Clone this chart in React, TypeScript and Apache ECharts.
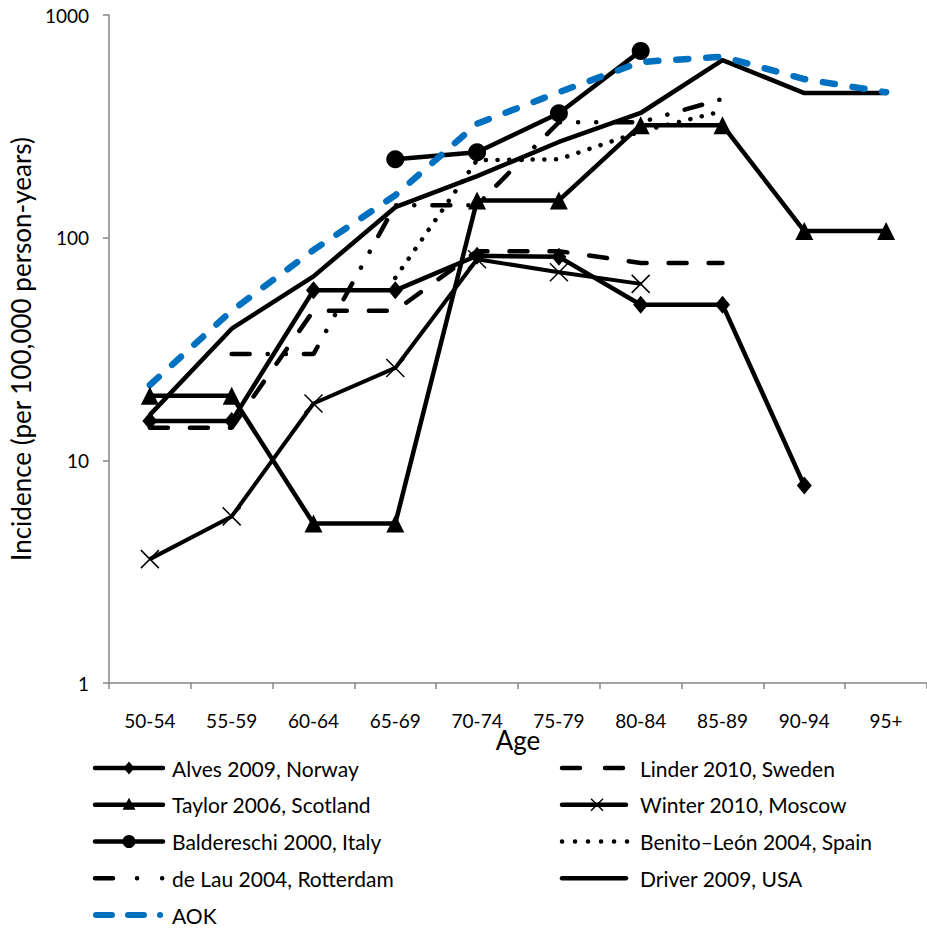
import React, { useEffect, useRef } from "react";
import * as echarts from "echarts";

const categories = ["50-54", "55-59", "60-64", "65-69", "70-74", "75-79", "80-84", "85-89", "90-94", "95+"];
const alves = [15, 15, 58, 58, 83, 82, 50, 50, 7.7, null];
const linder = [14, 14, 47, 47, 87, 87, 77, 77, null, null];
const taylor = [19.5, 19.5, 5.2, 5.2, 147, 147, 320, 320, 107, 107];
const winter = [3.6, 5.6, 18, 26, 80, 70, 62, null, null, null];
const baldereschi = [null, null, null, 225, 242, 362, 690, null, null, null];
const benito = [null, null, null, 66, 223, 225, 300, 370, null, null];
const deLau = [null, 30, 30, 140, 140, 330, 330, 420, null, null];
const driver = [16, 39, 67, 137, 189, 269, 363, 627, 446, 446];
const aok = [21.8, 47, 88, 155, 325, 450, 615, 650, 515, 450];

const leftLegend = ["Alves 2009, Norway", "Taylor 2006, Scotland", "Baldereschi 2000, Italy", "de Lau 2004, Rotterdam", "AOK"];
const rightLegend = ["Linder 2010, Sweden", "Winter 2010, Moscow", "Benito–León 2004, Spain", "Driver 2009, USA"];

const FONT = "Lato";
const AXIS_GRAY = "#868686";
const BLUE = "#0070C0";

function lineSeries(name: string, data: (number | null)[], extra: any) {
  return { name, type: "line", data, connectNulls: false, smooth: false, ...extra };
}

type LegendStyle = { stroke: string; width: number; dash?: number[]; marker?: string; x1: number; x2: number };

function legendGraphics(): any[] {
  const rowY = (i: number) => 768 + i * 36.75;
  const styles: Record<string, LegendStyle> = {
    "Alves 2009, Norway": { stroke: "#000", width: 4.5, marker: "diamond", x1: 95, x2: 163 },
    "Taylor 2006, Scotland": { stroke: "#000", width: 4.5, marker: "triangle", x1: 95, x2: 163 },
    "Baldereschi 2000, Italy": { stroke: "#000", width: 4.5, marker: "circle", x1: 95, x2: 163 },
    "de Lau 2004, Rotterdam": { stroke: "#000", width: 4.5, dash: [18, 24, 0.1, 25, 0.1, 100], x1: 95, x2: 163 },
    AOK: { stroke: BLUE, width: 6, dash: [16, 16], x1: 96, x2: 160.1 },
    "Linder 2010, Sweden": { stroke: "#000", width: 4.5, dash: [18, 25], x1: 562, x2: 626 },
    "Winter 2010, Moscow": { stroke: "#000", width: 4.5, marker: "x", x1: 562, x2: 626 },
    "Benito–León 2004, Spain": { stroke: "#000", width: 4.5, dash: [0.1, 12.9], x1: 562, x2: 628 },
    "Driver 2009, USA": { stroke: "#000", width: 4.5, x1: 562, x2: 626 },
  };
  const out: any[] = [];
  const add = (name: string, i: number, textX: number) => {
    const s = styles[name];
    const y = rowY(i);
    out.push({
      type: "line",
      shape: { x1: s.x1, y1: y, x2: s.x2, y2: y },
      style: { stroke: s.stroke, lineWidth: s.width, lineDash: s.dash || null, lineCap: "round" },
    });
    const cx = (s.x1 + s.x2) / 2;
    if (s.marker === "diamond") {
      out.push({ type: "polygon", shape: { points: [[cx, y - 6.5], [cx + 5.5, y], [cx, y + 6.5], [cx - 5.5, y]] }, style: { fill: "#000" } });
    } else if (s.marker === "triangle") {
      out.push({ type: "polygon", shape: { points: [[cx, y - 7], [cx + 6.5, y + 5], [cx - 6.5, y + 5]] }, style: { fill: "#000" } });
    } else if (s.marker === "circle") {
      out.push({ type: "circle", shape: { cx, cy: y, r: 6.5 }, style: { fill: "#000" } });
    } else if (s.marker === "x") {
      const cxx = cx + 3;
      out.push({ type: "line", shape: { x1: cxx - 6, y1: y - 6, x2: cxx + 6, y2: y + 6 }, style: { stroke: "#000", lineWidth: 1.5 } });
      out.push({ type: "line", shape: { x1: cxx - 6, y1: y + 6, x2: cxx + 6, y2: y - 6 }, style: { stroke: "#000", lineWidth: 1.5 } });
    }
    out.push({
      type: "text",
      x: textX,
      y,
      style: { text: name, fontSize: 21, fontFamily: FONT, fill: "#000", verticalAlign: "middle", align: "left" },
    });
  };
  leftLegend.forEach((n, i) => add(n, i, 172));
  rightLegend.forEach((n, i) => add(n, i, 640));
  return out;
}

export default function App() {
  const ref = useRef<HTMLDivElement>(null);
  useEffect(() => {
    if (!ref.current) return;
    const chart = echarts.init(ref.current, null, { renderer: "svg" });
    const solid = (w: number) => ({ color: "#000", width: w, type: "solid" });
    const option: any = {
      animation: false,
      backgroundColor: "#fff",
      textStyle: { fontFamily: FONT, color: "#000" },
      grid: { left: 88, top: 15, width: 842, height: 668, containLabel: false },
      xAxis: {
        type: "category",
        data: categories,
        boundaryGap: true,
        name: "Age",
        nameLocation: "middle",
        nameGap: 44,
        nameMoveOverlap: false,
        nameTextStyle: { fontSize: 26, fontFamily: FONT, color: "#000" },
        axisLine: { show: true, lineStyle: { color: AXIS_GRAY, width: 1.5 } },
        axisTick: { show: true, length: 6, alignWithLabel: false, lineStyle: { color: AXIS_GRAY, width: 1.5 } },
        axisLabel: { fontSize: 19, fontFamily: FONT, color: "#000", margin: 28, interval: 0 },
        splitLine: { show: false },
      },
      yAxis: {
        type: "log",
        logBase: 10,
        min: 1,
        max: 1000,
        splitNumber: 3,
        name: "Incidence (per 100,000 person-years)",
        nameLocation: "middle",
        nameGap: 55,
        nameTextStyle: { fontSize: 26, fontFamily: FONT, color: "#000" },
        axisLine: { show: true, lineStyle: { color: AXIS_GRAY, width: 1.5 } },
        axisTick: { show: true, length: 6, lineStyle: { color: AXIS_GRAY, width: 1.5 } },
        axisLabel: { fontSize: 19, fontFamily: FONT, color: "#000", margin: 20, formatter: (v: number) => String(Math.round(v)) },
        splitLine: { show: false },
        minorTick: { show: false },
      },
      graphic: legendGraphics(),
      series: [
        lineSeries("Alves 2009, Norway", alves, {
          symbol: "diamond",
          symbolSize: [15, 18],
          itemStyle: { color: "#000" },
          lineStyle: solid(4.5),
        }),
        lineSeries("Linder 2010, Sweden", linder, {
          symbol: "none",
          itemStyle: { color: "#000" },
          lineStyle: { color: "#000", width: 4.5, type: [18, 22], cap: "round" },
        }),
        lineSeries("Taylor 2006, Scotland", taylor, {
          symbol: "triangle",
          symbolSize: [18, 18],
          itemStyle: { color: "#000" },
          lineStyle: solid(4.5),
        }),
        lineSeries("Winter 2010, Moscow", winter, {
          symbol: "path://M0 0L10 10M10 0L0 10",
          symbolSize: 18,
          itemStyle: { color: "#000", borderColor: "#000", borderWidth: 1.5 },
          lineStyle: solid(4),
        }),
        lineSeries("Baldereschi 2000, Italy", baldereschi, {
          symbol: "circle",
          symbolSize: 18,
          itemStyle: { color: "#000" },
          lineStyle: solid(4.5),
        }),
        lineSeries("Benito–León 2004, Spain", benito, {
          symbol: "none",
          itemStyle: { color: "#000" },
          lineStyle: { color: "#000", width: 4.5, type: [0.1, 11.6], cap: "round" },
        }),
        lineSeries("de Lau 2004, Rotterdam", deLau, {
          symbol: "none",
          itemStyle: { color: "#000" },
          lineStyle: { color: "#000", width: 4.5, type: [18, 18, 0.1, 18, 0.1, 18], cap: "round" },
        }),
        lineSeries("Driver 2009, USA", driver, {
          symbol: "none",
          itemStyle: { color: "#000" },
          lineStyle: solid(4.5),
        }),
        lineSeries("AOK", aok, {
          symbol: "none",
          itemStyle: { color: BLUE },
          lineStyle: { color: BLUE, width: 6.5, type: [12, 18], cap: "round" },
        }),
      ],
    };
    chart.setOption(option);
    return () => chart.dispose();
  }, []);
  return (
    <div
      ref={ref}
      style={{ position: "absolute", left: 0, top: 0, width: 927, height: 928, background: "#fff" }}
    />
  );
}
